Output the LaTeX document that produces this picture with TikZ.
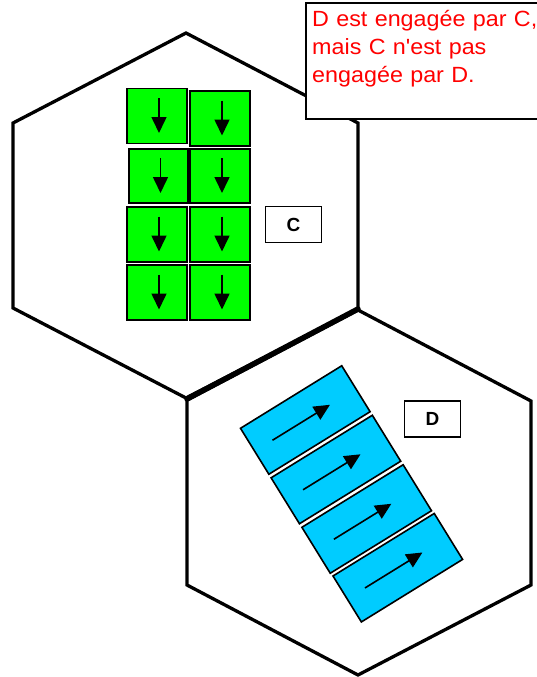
\documentclass[tikz,border=0pt]{standalone}
\usepackage{fontspec}
\setmainfont{Liberation Sans}
\newfontfamily\notefont[FakeStretch=1.06]{Liberation Sans}
\usetikzlibrary{arrows.meta, positioning, calc}
\definecolor{tilegreen}{HTML}{00FF00}
\definecolor{tileblue}{HTML}{00CCFF}
\definecolor{notered}{HTML}{FF0000}

\begin{document}
\begin{tikzpicture}[
  x=1pt, y=-1pt,
  >={Triangle[length=16pt, width=15pt]},
  hexline/.style={draw=black, line width=3.3pt, line join=miter},
  gtile/.style={
    draw=black, line width=1.8pt, fill=tilegreen,
    minimum width=60pt, minimum height=55pt, inner sep=0pt
  },
  btile/.style={
    draw=black, line width=1.6pt, fill=tileblue, rotate=31.7,
    minimum width=119pt, minimum height=54pt, inner sep=0pt
  },
  arr/.style={->, line width=1.6pt, black},
  tag/.style={
    draw=black, line width=1.8pt, fill=white, inner sep=0pt,
    minimum width=56pt, minimum height=36pt,
    font=\fontsize{19}{22}\selectfont\bfseries
  },
]

% Page
\useasboundingbox (0,0) rectangle (537,677);

% =============================================
% Hexagons
% =============================================
\draw[hexline] (186,33) -- (358,123) -- (358,309) -- (186,398)
  -- (13,308) -- (13,123) -- cycle;
\draw[hexline] (358,310) -- (531,401) -- (531,585) -- (358,675)
  -- (187,585) -- (187,400) -- cycle;

% shared edge, heavier
\draw[line width=5.5pt, line cap=round] (358,309) -- (187,399);

% =============================================
% Unit C (green, facing down)
% =============================================
\node[gtile] (c1) at (157,116) {};
\node[gtile] (c2) at (220,118.5) {};
\node[gtile, minimum width=59pt, minimum height=54pt] (c3) at (158.5,176) {};
\node[gtile, minimum height=54pt] (c4) at (220,176) {};
\node[gtile] (c5) at (157,234.5) {};
\node[gtile] (c6) at (220,234.5) {};
\node[gtile] (c7) at (157,292.5) {};
\node[gtile] (c8) at (220,292.5) {};

% Arrows
\draw[arr] ($(c1.center)+(2,-18)$) -- ($(c1.center)+(2,17)$);
\draw[arr] ($(c2.center)+(2,-18)$) -- ($(c2.center)+(2,17)$);
\draw[arr] ($(c3.center)+(2,-18)$) -- ($(c3.center)+(2,17)$);
\draw[arr] ($(c4.center)+(2,-18)$) -- ($(c4.center)+(2,17)$);
\draw[arr] ($(c5.center)+(2,-18)$) -- ($(c5.center)+(2,17)$);
\draw[arr] ($(c6.center)+(2,-18)$) -- ($(c6.center)+(2,17)$);
\draw[arr] ($(c7.center)+(2,-18)$) -- ($(c7.center)+(2,17)$);
\draw[arr] ($(c8.center)+(2,-18)$) -- ($(c8.center)+(2,17)$);

\node[tag] (ctag) at (293.5,224.5) {C};

% =============================================
% Unit D (blue, slanted)
% =============================================
\node[btile] (d1) at (305.3,420) {};
\node[btile] (d2) at (335.9,469.5) {};
\node[btile] (d3) at (366.7,519) {};
\node[btile] (d4) at (397.8,567.7) {};

% Arrows
\draw[arr] ($(d1.west)!0.18!(d1.east)$) -- ($(d1.west)!0.74!(d1.east)$);
\draw[arr] ($(d2.west)!0.18!(d2.east)$) -- ($(d2.west)!0.74!(d2.east)$);
\draw[arr] ($(d3.west)!0.18!(d3.east)$) -- ($(d3.west)!0.74!(d3.east)$);
\draw[arr] ($(d4.west)!0.18!(d4.east)$) -- ($(d4.west)!0.74!(d4.east)$);

\node[tag] (dtag) at (432.5,419) {D};

% =============================================
% Note (top right)
% =============================================
\draw[line width=1.8pt, fill=white] (306,3) rectangle (548,119);
\node[anchor=base west, inner sep=0pt, text width=240pt, align=left,
  text=notered, font=\notefont\fontsize{22}{28}\selectfont] (note) at (312,27)
  {D est engagée par C,\\mais C n'est pas\\engagée par D.};

\end{tikzpicture}
\end{document}
